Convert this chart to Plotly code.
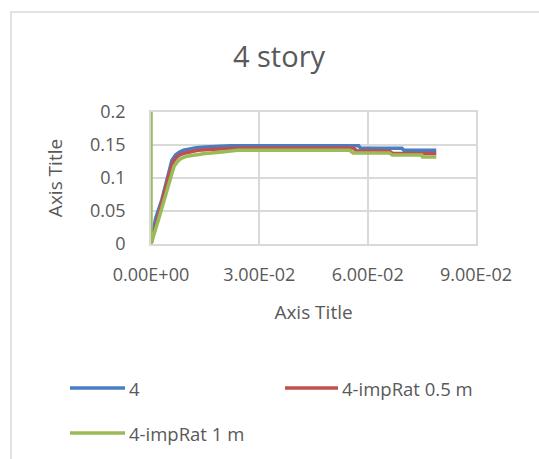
import plotly.graph_objects as go

# Drift (x) vs. base shear ratio (y) for the 4-story model
x_base = [0, 0.0013, 0.003, 0.0045, 0.0058, 0.0068, 0.0078, 0.009, 0.0105, 0.0125,
          0.015, 0.018, 0.022, 0.03, 0.04, 0.05, 0.0575, 0.058, 0.0695, 0.070, 0.079]
y_base = [0, 0.039, 0.067, 0.1, 0.127, 0.135, 0.139, 0.142, 0.144, 0.146,
          0.147, 0.148, 0.149, 0.149, 0.149, 0.149, 0.149, 0.145, 0.145, 0.142, 0.142]

x_imp05 = [0, 0.0015, 0.003, 0.0046, 0.006, 0.007, 0.008, 0.0095, 0.011, 0.013,
           0.016, 0.02, 0.025, 0.03, 0.045, 0.056, 0.057, 0.066, 0.067, 0.079]
y_imp05 = [0, 0.03, 0.063, 0.097, 0.123, 0.131, 0.135, 0.138, 0.14, 0.142,
           0.143, 0.1445, 0.1455, 0.1455, 0.1455, 0.1455, 0.141, 0.141, 0.137, 0.137]

x_imp1 = [0, 0, 0.0017, 0.0034, 0.005, 0.0064, 0.0075, 0.0085, 0.01, 0.012,
          0.015, 0.019, 0.024, 0.03, 0.045, 0.055, 0.056, 0.066, 0.0668, 0.075, 0.0752, 0.079]
y_imp1 = [0.2, 0, 0.03, 0.063, 0.095, 0.118, 0.126, 0.13, 0.133, 0.135,
          0.137, 0.139, 0.142, 0.142, 0.142, 0.142, 0.138, 0.138, 0.135, 0.135, 0.132, 0.132]

series_names = ["4", "4-impRat 0.5 m", "4-impRat 1 m"]
series_colors = ["#4A7EC4", "#C0504D", "#9BBB59"]

x_tickvals = [0, 0.03, 0.06, 0.09]
x_ticktext = ["0.00E+00", "3.00E-02", "6.00E-02", "9.00E-02"]
y_tickvals = [0, 0.05, 0.1, 0.15, 0.2]
y_ticktext = ["0", "0.05", "0.1", "0.15", "0.2"]

FONT = "Open Sans"
TXT = "#595959"
GRID = "#D9D9D9"

# plot area in pixels
W, H = 539, 459
L, R, T, B = 151, 476, 112, 244


def px(xp):
    return (xp - L) / (R - L)


def py(yp):
    return (B - yp) / (B - T)


fig = go.Figure()
for xs, ys, name, color in zip([x_base, x_imp05, x_imp1], [y_base, y_imp05, y_imp1],
                               series_names, series_colors):
    fig.add_trace(go.Scatter(x=xs, y=ys, mode="lines", name=name,
                             line=dict(color=color, width=3.5), showlegend=False,
                             cliponaxis=True))

shapes = []
annotations = []

# chart-area border (left and top edges)
shapes.append(dict(type="path", xref="paper", yref="paper",
                   path=f"M {px(11)} {py(470)} L {px(11)} {py(12)} L {px(560)} {py(12)}",
                   line=dict(color=GRID, width=1.5)))

# legend entries
legend_pos = [(70, 125, 388), (285, 338, 388), (70, 125, 433)]
for (x0, x1, yy), name, color in zip(legend_pos, series_names, series_colors):
    shapes.append(dict(type="line", xref="paper", yref="paper",
                       x0=px(x0), x1=px(x1), y0=py(yy), y1=py(yy),
                       line=dict(color=color, width=3.5)))
    annotations.append(dict(text=name, xref="paper", yref="paper",
                            x=px(x1 + 2), y=py(yy), xanchor="left", yanchor="middle",
                            showarrow=False, font=dict(family=FONT, size=18.5, color=TXT)))

fig.update_layout(
    width=W, height=H,
    margin=dict(l=L, r=W - R, t=T, b=H - B, pad=0),
    paper_bgcolor="white", plot_bgcolor="white",
    title=dict(text="4 story", x=279 / W, xanchor="center", y=1 - 57 / H, yanchor="middle",
               xref="container", yref="container",
               font=dict(family=FONT, size=29, color=TXT)),
    font=dict(family=FONT, color=TXT),
    shapes=shapes, annotations=annotations,
    showlegend=False,
)

fig.update_xaxes(range=[0, 0.09], tickvals=x_tickvals, ticktext=x_ticktext,
                 showgrid=True, gridcolor=GRID, gridwidth=1.5, zeroline=False,
                 showline=True, linecolor=GRID, linewidth=1.5, mirror=True,
                 ticks="", ticklabelstandoff=14,
                 tickfont=dict(family=FONT, size=18, color=TXT),
                 title=dict(text="Axis Title", standoff=20,
                            font=dict(family=FONT, size=19, color=TXT)))
fig.update_yaxes(range=[0, 0.2], tickvals=y_tickvals, ticktext=y_ticktext,
                 showgrid=True, gridcolor=GRID, gridwidth=1.5, zeroline=False,
                 showline=True, linecolor=GRID, linewidth=1.5, mirror=True,
                 ticks="", ticklabelstandoff=20,
                 tickfont=dict(family=FONT, size=18, color=TXT),
                 title=dict(text="Axis Title", standoff=22,
                            font=dict(family=FONT, size=19, color=TXT)))

fig.write_html("out.html")
